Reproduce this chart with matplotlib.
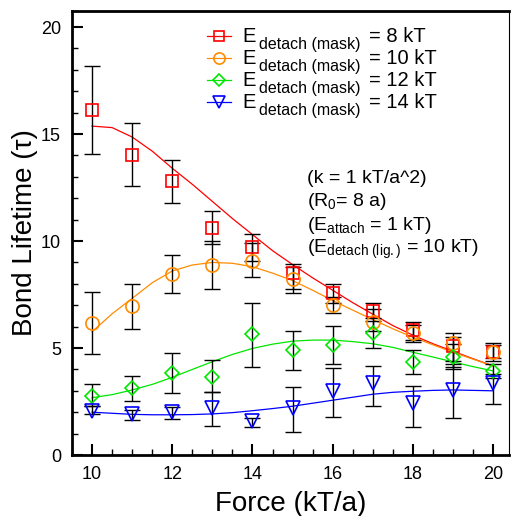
import matplotlib
matplotlib.use('Agg')
import matplotlib.pyplot as plt
from matplotlib.lines import Line2D
from matplotlib.ticker import MultipleLocator

plt.rcParams['font.family'] = ['Liberation Sans', 'DejaVu Sans']
plt.rcParams['mathtext.fontset'] = 'custom'
plt.rcParams['mathtext.rm'] = 'Liberation Sans'
plt.rcParams['mathtext.it'] = 'Liberation Sans'

# datos
fuerza = [10, 11, 12, 13, 14, 15, 16, 17, 18, 19, 20]

vida_8 = [16.1, 14.0, 12.8, 10.6, 9.7, 8.5, 7.55, 6.75, 5.85, 5.1, 4.8]
alto_8 = [18.2, 15.5, 13.8, 11.4, 10.33, 8.93, 7.98, 7.09, 6.23, 5.72, 5.25]
bajo_8 = [14.05, 12.55, 11.8, 9.86, 9.05, 7.74, 7.1, 6.4, 5.37, 4.25, 4.52]

vida_10 = [6.18, 6.96, 8.46, 8.88, 9.08, 8.21, 7.0, 6.23, 5.69, 5.25, 4.83]
alto_10 = [7.63, 8.0, 9.33, 10.0, 9.92, 8.77, 7.4, 6.8, 6.07, 5.53, 5.14]
bajo_10 = [4.72, 5.88, 7.55, 7.76, 8.3, 7.58, 6.65, 5.8, 5.27, 4.1, 4.4]

vida_12 = [2.76, 3.12, 3.82, 3.66, 5.64, 4.91, 5.14, 5.72, 4.36, 4.6, 3.93]
alto_12 = [3.3, 3.7, 4.75, 4.44, 7.12, 5.81, 6.03, 6.25, 4.91, 5.2, 4.25]
bajo_12 = [2.3, 2.52, 2.88, 2.93, 4.13, 3.97, 4.25, 4.98, 3.77, 4.0, 3.6]

vida_14 = [2.05, 1.92, 2.02, 2.21, 1.59, 2.18, 3.0, 3.35, 2.41, 3.04, 3.38]
alto_14 = [2.3, 2.1, 2.25, 2.96, 1.75, 3.16, 4.05, 4.17, 3.22, 4.4, 3.8]
bajo_14 = [1.9, 1.64, 1.67, 1.37, 1.32, 1.09, 1.79, 2.31, 1.29, 1.71, 2.38]

# curvas de ajuste (leidas cada 0.5)
x_ajuste = [10, 10.5, 11, 11.5, 12, 12.5, 13, 13.5, 14, 14.5, 15,
            15.5, 16, 16.5, 17, 17.5, 18, 18.5, 19, 19.5, 20]
ajuste_8 = [15.37, 15.3, 14.86, 14.2, 13.4, 12.65, 11.85, 11.05, 10.3, 9.55, 8.9,
            8.28, 7.7, 7.12, 6.58, 6.05, 5.6, 5.2, 4.85, 4.5, 4.16]
ajuste_10 = [5.76, 6.6, 7.32, 8.05, 8.6, 8.88, 9.0, 8.96, 8.8, 8.5, 8.15,
             7.7, 7.22, 6.77, 6.33, 5.9, 5.5, 5.15, 4.8, 4.48, 4.16]
ajuste_12 = [2.68, 2.82, 3.04, 3.3, 3.63, 4.0, 4.36, 4.7, 4.98, 5.18, 5.32,
             5.37, 5.37, 5.3, 5.2, 5.03, 4.8, 4.58, 4.35, 4.13, 3.93]
ajuste_14 = [2.0, 1.95, 1.9, 1.88, 1.88, 1.89, 1.92, 1.98, 2.07, 2.17, 2.28,
             2.42, 2.56, 2.7, 2.84, 2.93, 2.98, 3.02, 3.04, 3.02, 3.0]

energias = ['8', '10', '12', '14']

series = [
    (vida_8, alto_8, bajo_8, ajuste_8, 'red', 's', 8.5),
    (vida_10, alto_10, bajo_10, ajuste_10, '#ff8c00', 'o', 9.5),
    (vida_12, alto_12, bajo_12, ajuste_12, '#00e600', 'D', 7.5),
    (vida_14, alto_14, bajo_14, ajuste_14, '#0000ff', 'v', 10),
]

W, H = 513, 516
fig = plt.figure(figsize=(W / 100, H / 100), dpi=100)
ax = fig.add_axes([0.1404, 0.1182, 0.852, 0.8605])

for i, (vida, alto, bajo, ajuste, color, marca, tam) in enumerate(series):
    err = [[v - b for v, b in zip(vida, bajo)], [a - v for v, a in zip(vida, alto)]]
    ax.plot(x_ajuste, ajuste, color=color, lw=0.9, zorder=2)
    ax.errorbar(fuerza, vida, yerr=err, fmt='none', ecolor='black', elinewidth=1.0,
                capsize=6, capthick=1.0, zorder=3)
    ax.plot(fuerza, vida, linestyle='none', marker=marca, ms=tam, mfc='none',
            mec=color, mew=1.2, zorder=4)

    # leyenda hecha a mano (subindice grande como en el original)
    fila = 35.7 + 22.0 * i
    fig.add_artist(Line2D([207 / W, 219 / W, 231 / W], [1 - fila / H] * 3,
                          transform=fig.transFigure, color=color, lw=0.9,
                          marker=marca, markevery=[1], ms=tam * 0.85,
                          mfc='none', mec=color, mew=1.2))
    base = 1 - (fila + 6.0) / H
    fig.text(242 / W, base, 'E', fontsize=14.5, va='baseline')
    fig.text(259 / W, base - 7.5 / H, 'detach (mask)', fontsize=11.5, va='baseline')
    fig.text(369 / W, base, '= ' + energias[i] + ' kT', fontsize=14.5, va='baseline')

ax.text(0.538, 0.613, '(k = 1 kT/a^2)', transform=ax.transAxes, fontsize=14, va='baseline')
ax.text(0.538, 0.561, r'(R$_0$= 8 a)', transform=ax.transAxes, fontsize=14, va='baseline')
ax.text(0.538, 0.507, r'(E$_{\mathrm{attach}}$ = 1 kT)', transform=ax.transAxes,
        fontsize=14, va='baseline')
ax.text(0.538, 0.455, r'(E$_{\mathrm{detach\ (lig.)}}$ = 10 kT)', transform=ax.transAxes,
        fontsize=14, va='baseline')

ax.set_xlim(9.5, 20.4)
ax.set_ylim(0, 20.75)
ax.xaxis.set_major_locator(MultipleLocator(2))
ax.xaxis.set_minor_locator(MultipleLocator(0.5))
ax.yaxis.set_major_locator(MultipleLocator(5))
ax.yaxis.set_minor_locator(MultipleLocator(1))
ax.tick_params(which='major', direction='in', length=8, width=1.5, labelsize=13, pad=8)
ax.tick_params(which='minor', direction='in', length=4, width=1.0)
ax.tick_params(top=False, right=False, which='both')

for lado in ['left', 'bottom', 'top']:
    ax.spines[lado].set_linewidth(2.0)
ax.spines['right'].set_linewidth(0.8)

ax.set_xlabel('Force (kT/a)', fontsize=20, labelpad=6)
ax.set_ylabel('Bond Lifetime (τ)', fontsize=20, labelpad=2)

fig.savefig('out.png', dpi=100)
